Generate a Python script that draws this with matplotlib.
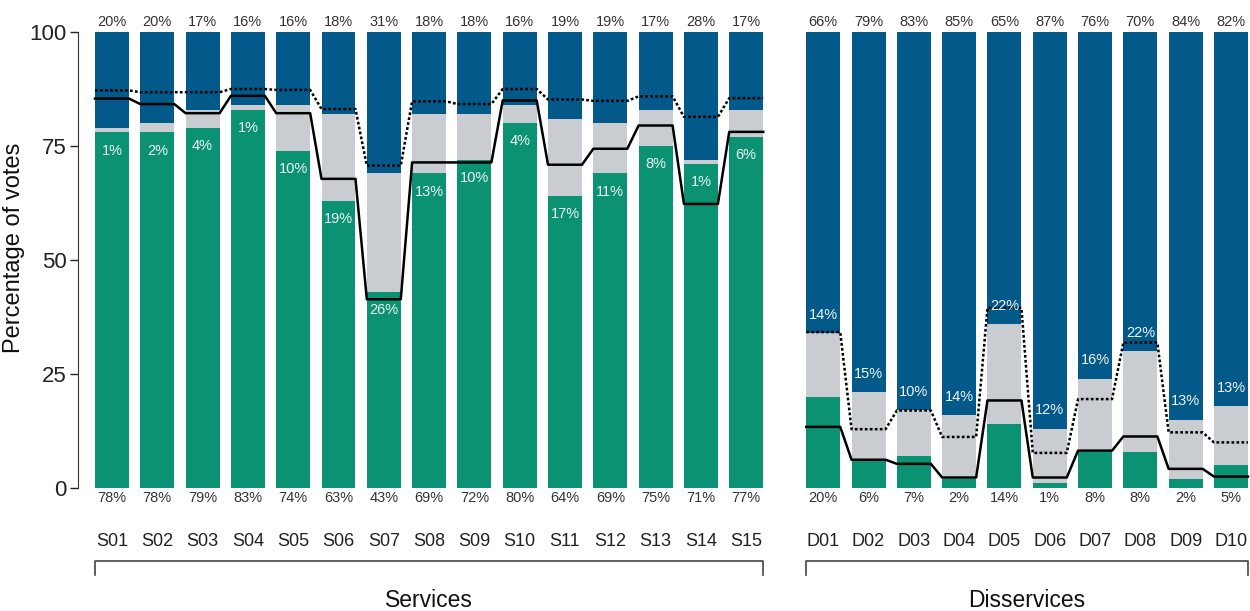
import matplotlib.pyplot as plt

plt.rcParams['font.family'] = ['Liberation Sans', 'DejaVu Sans']

# ecosystem services
serv_names = ['S01', 'S02', 'S03', 'S04', 'S05', 'S06', 'S07', 'S08',
              'S09', 'S10', 'S11', 'S12', 'S13', 'S14', 'S15']
serv_pos = [78, 78, 79, 83, 74, 63, 43, 69, 72, 80, 64, 69, 75, 71, 77]
serv_neu = [1, 2, 4, 1, 10, 19, 26, 13, 10, 4, 17, 11, 8, 1, 6]
serv_neg = [20, 20, 17, 16, 16, 18, 31, 18, 18, 16, 19, 19, 17, 28, 17]
serv_solid = [85.4, 84.2, 82.2, 86.0, 82.2, 67.8, 41.4, 71.4, 71.4, 85.0,
              70.9, 74.4, 79.5, 62.3, 78.1]
serv_dotted = [87.2, 86.8, 86.8, 87.5, 87.3, 83.1, 70.7, 84.8, 84.2, 87.5,
               85.2, 84.9, 85.9, 81.4, 85.5]

# ecosystem disservices
dis_names = ['D01', 'D02', 'D03', 'D04', 'D05', 'D06', 'D07', 'D08', 'D09', 'D10']
dis_pos = [20, 6, 7, 2, 14, 1, 8, 8, 2, 5]
dis_neu = [14, 15, 10, 14, 22, 12, 16, 22, 13, 13]
dis_neg = [66, 79, 83, 85, 65, 87, 76, 70, 84, 82]
dis_solid = [13.4, 6.2, 5.3, 2.3, 19.2, 2.3, 8.2, 11.3, 4.2, 2.5]
dis_dotted = [34.2, 12.9, 17.0, 11.2, 39.5, 7.7, 19.5, 31.9, 12.2, 10.0]

green = '#0a9272'
grey = '#c9cdd1'
blue = '#02598a'
txt = '#333333'
width = 0.75
gap = 1.7

fig = plt.figure(figsize=(12.5, 6.11), dpi=100)
ax = fig.add_axes([0.0624, 0.2013, 0.9376, 0.7463])

xs_serv = list(range(len(serv_names)))
xs_dis = [len(serv_names) - 1 + gap + i for i in range(len(dis_names))]


def draw_group(xs, pos, neu, neg, solid, dotted, names, title, neu_inside_green):
    low = [p + n for p, n in zip(pos, neu)]
    ax.bar(xs, pos, width, color=green, zorder=1)
    ax.bar(xs, neu, width, bottom=pos, color=grey, zorder=1)
    ax.bar(xs, [100 - b for b in low], width, bottom=low, color=blue, zorder=1)

    # step lines running across each bar
    lx, ly, dy = [], [], []
    for x, s, d in zip(xs, solid, dotted):
        lx += [x - width / 2, x + width / 2]
        ly += [s, s]
        dy += [d, d]
    ax.plot(lx, dy, color='black', lw=1.8, ls=(0, (1.1, 0.9)), zorder=2)
    ax.plot(lx, ly, color='black', lw=1.8, zorder=2)

    tr = ax.get_xaxis_transform()
    for i, x in enumerate(xs):
        ax.text(x, 1.022, f'{neg[i]}%', transform=tr, ha='center', va='center',
                fontsize=10.5, color=txt)
        ax.text(x, -0.022, f'{pos[i]}%', transform=tr, ha='center', va='center',
                fontsize=10.5, color=txt)
        ax.text(x, -0.118, names[i], transform=tr, ha='center', va='center',
                fontsize=13, color='#222222')
        ym = pos[i] - 4 if neu_inside_green else low[i] + 4
        ax.text(x, ym, f'{neu[i]}%', ha='center', va='center', fontsize=10.5,
                color='#eef4f2', zorder=3)

    # bracket under the group
    x0, x1 = xs[0] - width / 2, xs[-1] + width / 2
    ax.plot([x0, x0, x1, x1], [-0.19, -0.16, -0.16, -0.19], transform=tr,
            color='#444444', lw=1.2, clip_on=False)
    ax.text((x0 + x1) / 2, -0.247, title, transform=tr, ha='center', va='center',
            fontsize=16.5, color='#111111')


draw_group(xs_serv, serv_pos, serv_neu, serv_neg, serv_solid, serv_dotted,
           serv_names, 'Services', True)
draw_group(xs_dis, dis_pos, dis_neu, dis_neg, dis_solid, dis_dotted,
           dis_names, 'Disservices', False)

ax.set_xlim(-0.75, xs_dis[-1] + 0.42)
ax.set_ylim(0, 100)
ax.set_yticks([0, 25, 50, 75, 100])
ax.tick_params(axis='y', labelsize=16, length=6, width=1, colors='#222222', pad=2)
ax.set_xticks([])
for side in ['top', 'right', 'bottom']:
    ax.spines[side].set_visible(False)
ax.spines['left'].set_color('#333333')
ax.set_ylabel('Percentage of votes', fontsize=17, color='#111111')
ax.yaxis.set_label_coords(-0.045, 0.526)

fig.savefig('out.png', dpi=100)
